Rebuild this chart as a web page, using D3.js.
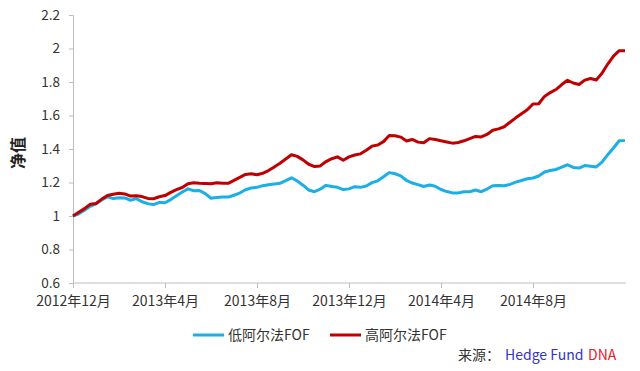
<!DOCTYPE html>
<html><head><meta charset="utf-8">
<script src="https://cdn.jsdelivr.net/npm/d3@7"></script>
<style>body{margin:0;background:#fff;}svg{display:block;}</style>
</head><body>
<svg id="c" width="640" height="371"></svg>
<script>
const tickLabels = ["2012年12月","2013年4月","2013年8月","2013年12月","2014年4月","2014年8月"];
const tickIndex = [0,16,32,48,64,80];
const yTicks = [0.6,0.8,1,1.2,1.4,1.6,1.8,2,2.2];
const seriesNames = ["低阿尔法FOF","高阿尔法FOF"];
const lowAlpha = [1.000,1.013,1.035,1.058,1.073,1.096,1.114,1.104,1.109,1.108,1.094,1.104,1.085,1.074,1.068,1.082,1.079,1.098,1.121,1.143,1.162,1.151,1.152,1.134,1.106,1.110,1.114,1.113,1.124,1.137,1.157,1.167,1.171,1.181,1.187,1.191,1.195,1.211,1.228,1.209,1.184,1.155,1.145,1.160,1.183,1.176,1.171,1.158,1.162,1.175,1.171,1.179,1.199,1.210,1.234,1.259,1.252,1.240,1.212,1.197,1.187,1.176,1.185,1.178,1.158,1.146,1.138,1.138,1.145,1.145,1.155,1.145,1.161,1.181,1.182,1.181,1.189,1.202,1.212,1.222,1.227,1.239,1.263,1.272,1.278,1.292,1.306,1.290,1.286,1.301,1.297,1.293,1.322,1.366,1.406,1.449,1.450];
const highAlpha = [1.000,1.022,1.044,1.070,1.075,1.101,1.122,1.130,1.136,1.132,1.119,1.121,1.116,1.105,1.103,1.115,1.122,1.141,1.157,1.170,1.193,1.198,1.195,1.194,1.192,1.198,1.195,1.195,1.213,1.231,1.248,1.252,1.246,1.255,1.271,1.293,1.315,1.340,1.366,1.356,1.335,1.309,1.295,1.299,1.325,1.342,1.353,1.333,1.353,1.364,1.371,1.393,1.417,1.424,1.444,1.481,1.479,1.471,1.448,1.457,1.441,1.437,1.462,1.457,1.449,1.442,1.435,1.439,1.449,1.462,1.475,1.472,1.487,1.512,1.520,1.533,1.560,1.586,1.610,1.634,1.669,1.670,1.714,1.737,1.755,1.785,1.810,1.794,1.785,1.811,1.821,1.812,1.852,1.907,1.955,1.987,1.987];
const colors = ["#1aafe6","#c00000"];

const svg = d3.select("#c");
const x = d3.scaleLinear().domain([0, lowAlpha.length-1]).range([73, 625]);
const y = d3.scaleLinear().domain([0.6, 2.2]).range([283, 15]);
const font = "'Noto Sans CJK SC','Noto Sans',sans-serif";

// y axis
const ya = svg.append("g").attr("transform","translate(73,0)")
  .call(d3.axisLeft(y).tickValues(yTicks).tickFormat(d=>d3.format("")(+d.toFixed(1))).tickSize(4).tickPadding(9));
ya.select(".domain").attr("stroke","#bfbfbf");
ya.selectAll(".tick line").attr("stroke","#bfbfbf");
ya.selectAll("text").attr("font-family",font).attr("font-size",13.5).attr("fill","#333");

// x axis
const xa = svg.append("g").attr("transform","translate(0,283)")
  .call(d3.axisBottom(x).tickValues(tickIndex).tickFormat((d,i)=>tickLabels[i]).tickSize(5).tickSizeOuter(0).tickPadding(8));
xa.select(".domain").attr("stroke","#bfbfbf").attr("d","M73,0H626");
xa.selectAll(".tick line").attr("stroke","#bfbfbf");
xa.selectAll("text").attr("font-family",font).attr("font-size",14).attr("fill","#333");

// y title
svg.append("text").attr("transform","translate(24,153) rotate(-90)")
  .attr("text-anchor","middle").attr("font-family",font).attr("font-weight","bold")
  .attr("font-size",16).attr("fill","#222").text("净值");

const line = d3.line().x((d,i)=>x(i)).y(d=>y(d));
[lowAlpha, highAlpha].forEach((s,k)=>{
  svg.append("path").datum(s).attr("d",line).attr("fill","none")
    .attr("stroke",colors[k]).attr("stroke-width",3).attr("stroke-linejoin","round");
});

// legend
const legX = [193, 330];
seriesNames.forEach((n,k)=>{
  svg.append("line").attr("x1",legX[k]).attr("x2",legX[k]+31).attr("y1",335).attr("y2",335)
    .attr("stroke",colors[k]).attr("stroke-width",3);
  svg.append("text").attr("x",legX[k]+35).attr("y",340).attr("font-family",font)
    .attr("font-size",14).attr("fill","#333").text(n);
});

// source
const srcY = 360;
svg.append("text").attr("x",458).attr("y",srcY).attr("font-family",font).attr("font-size",14).attr("fill","#333").text("来源：");
svg.append("text").attr("x",505).attr("y",srcY).attr("font-family",font).attr("font-size",14).attr("fill","#3333cc").text("Hedge Fund");
svg.append("text").attr("x",588).attr("y",srcY).attr("font-family",font).attr("font-size",14).attr("fill","#e8202a").text("DNA");
</script>
</body></html>
